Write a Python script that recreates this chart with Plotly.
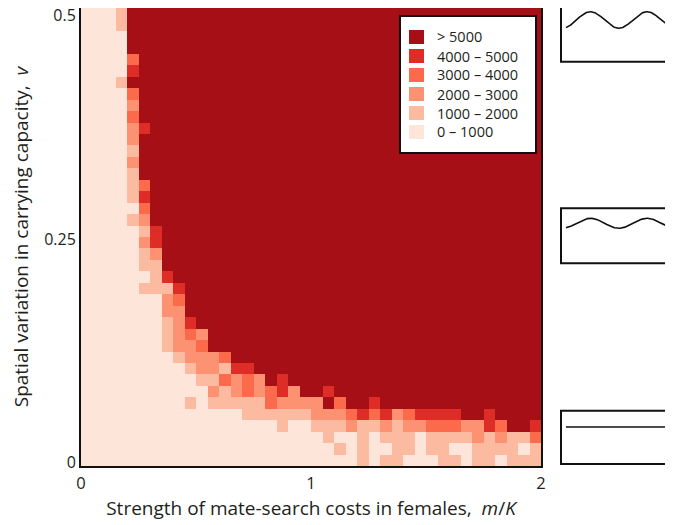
import numpy as np
import plotly.graph_objects as go

# ---------------- data ----------------
# x: strength of mate-search costs m/K (cell centres, 40 columns on [0, 2])
m_over_K = [round(0.025 + 0.05 * i, 4) for i in range(40)]
# y: spatial variation in carrying capacity v (40 rows, 0 ... 0.5)
v_values = [float(v) for v in np.linspace(0.0, 0.5, 40)]

# class index per cell: 0 "0-1000", 1 "1000-2000", 2 "2000-3000",
# 3 "3000-4000", 4 "4000-5000", 5 "> 5000"; rows listed from top (v=0.5) to bottom (v=0)
rows_top_down = [
    "0001555555 5555555555 5555555555 5555555555",
    "0001555555 5555555555 5555555555 5555555555",
    "0000555555 5555555555 5555555555 5555555555",
    "0000555555 5555555555 5555555555 5555555555",
    "0000355555 5555555555 5555555555 5555555555",
    "0000455555 5555555555 5555555555 5555555555",
    "0001555555 5555555555 5555555555 5555555555",
    "0000355555 5555555555 5555555555 5555555555",
    "0000255555 5555555555 5555555555 5555555555",
    "0000355555 5555555555 5555555555 5555555555",
    "0000245555 5555555555 5555555555 5555555555",
    "0000255555 5555555555 5555555555 5555555555",
    "0000155555 5555555555 5555555555 5555555555",
    "0000255555 5555555555 5555555555 5555555555",
    "0000155555 5555555555 5555555555 5555555555",
    "0000135555 5555555555 5555555555 5555555555",
    "0000145555 5555555555 5555555555 5555555555",
    "0000035555 5555555555 5555555555 5555555555",
    "0000125555 5555555555 5555555555 5555555555",
    "0000014555 5555555555 5555555555 5555555555",
    "0000024555 5555555555 5555555555 5555555555",
    "0000012555 5555555555 5555555555 5555555555",
    "0000011555 5555555555 5555555555 5555555555",
    "0000001455 5555555555 5555555555 5555555555",
    "0000011145 5555555555 5555555555 5555555555",
    "0000000235 5555555555 5555555555 5555555555",
    "0000000225 5555555555 5555555555 5555555555",
    "0000000124 5555555555 5555555555 5555555555",
    "0000000123 2555555555 5555555555 5555555555",
    "0000000122 3555555555 5555555555 5555555555",
    "0000000012 2235555555 5555555555 5555555555",
    "0000000001 2214455555 5555555555 5555555555",
    "0000000000 1132325455 5555555555 5555555555",
    "0000000000 0212323425 5455555555 5555555555",
    "0000000001 0111113222 2535545555 5555555555",
    "0000000000 0000111111 2223434234 4445545555",
    "0000000000 0000000100 1112112122 3332243554",
    "0000000000 0000000000 0100101110 1111212113",
    "0000000000 0000000000 0010100110 1100111101",
    "0000000000 0000000000 0000101100 0110110111",
]

class_labels = ["> 5000", "4000 \u2013 5000", "3000 \u2013 4000",
                "2000 \u2013 3000", "1000 \u2013 2000", "0 \u2013 1000"]
class_colors = ["#a50f15", "#de2d26", "#fb6a4a", "#fc9272", "#fcbba1", "#fee5d9"]

x_ticks = [0, 1, 2]
x_ticktext = ["0", "1", "2"]
y_ticks = [0, 0.25, 0.5]
y_ticktext = ["0", "0.25", "0.5"]

# insets: illustration of the carrying-capacity landscape (amplitude in px)
inset_centre = [20.0, 223.3, 427.0]
inset_amp = [8.3, 5.0, 0.0]
inset_box = [(7.0, 61.7), (208.3, 263.3), (410.7, 464.0)]

# ---------------- figure ----------------
FONT = "Open Sans, Lato, sans-serif"
TXT = "#231f20"
OFF = 8                      # page offset of the plot div
W, H = 673 - OFF, 525 - OFF
ML, MT = 81 - OFF, 8 - OFF
MB = H - (466 - OFF)
PW = W - ML
PH = H - MT - MB


def px_x(p):  # page pixel -> paper
    return (p - 81) / PW


def px_y(p):
    return (466 - p) / PH


z = [[int(c) for c in r.replace(" ", "")] for r in reversed(rows_top_down)]
for r in z:
    assert len(r) == 40
assert len(z) == 40

lowfirst = class_colors[::-1]
colorscale = []
for k, c in enumerate(lowfirst):
    colorscale.append([k / 6, c])
    colorscale.append([(k + 1) / 6, c])

fig = go.Figure()
fig.add_trace(go.Heatmap(
    x=m_over_K, y=v_values, z=z, zmin=-0.5, zmax=5.5,
    colorscale=colorscale, showscale=False, hoverinfo="x+y+z",
))

# inset waves
for c, a in zip(inset_centre, inset_amp):
    xs = np.linspace(566, 672, 240)
    ys = c - a * np.cos(2 * np.pi * (xs - 590.5) / 56.5)
    fig.add_trace(go.Scatter(x=xs, y=ys, mode="lines",
                             line=dict(color="#111111", width=1.6),
                             xaxis="x2", yaxis="y2", showlegend=False,
                             hoverinfo="skip"))

shapes = []
for (t, b) in inset_box:
    shapes.append(dict(type="rect", xref="paper", yref="paper",
                       x0=px_x(561), x1=px_x(700), y0=px_y(b), y1=px_y(t),
                       line=dict(color="#111111", width=2), fillcolor="rgba(0,0,0,0)"))

# legend box
shapes.append(dict(type="rect", xref="paper", yref="paper",
                   x0=px_x(400), x1=px_x(536), y0=px_y(153), y1=px_y(16),
                   line=dict(color="#111111", width=2), fillcolor="white"))
annotations = []
for i, (lab, col) in enumerate(zip(class_labels, class_colors)):
    cy = 37 + 19 * i
    shapes.append(dict(type="rect", xref="paper", yref="paper",
                       x0=px_x(409), x1=px_x(424), y0=px_y(cy + 7), y1=px_y(cy - 7),
                       line=dict(width=0), fillcolor=col))
    annotations.append(dict(x=px_x(436), y=px_y(cy), xref="paper", yref="paper",
                            text=lab, showarrow=False, xanchor="left", yanchor="middle",
                            borderpad=0,
                            font=dict(family=FONT, size=14.5, color=TXT)))

fig.update_layout(
    width=W, height=H,
    margin=dict(l=ML, r=0, t=MT, b=MB, pad=0, autoexpand=False),
    paper_bgcolor="white", plot_bgcolor="white",
    font=dict(family=FONT, size=16, color=TXT),
    showlegend=False,
    shapes=shapes, annotations=annotations,
    xaxis=dict(domain=[0, 460 / PW], range=[0, 2], tickvals=x_ticks, ticktext=x_ticktext,
               showline=True, mirror=True, linecolor="#111111", linewidth=2,
               ticks="", showgrid=False, zeroline=False, ticklabelstandoff=1,
               automargin=False,
               ticklabeloverflow="allow", tickfont=dict(size=16.5),
               title=dict(text="Strength of mate-search costs in females,  <i>m</i>/<i>K</i>",
                          font=dict(size=19), standoff=9)),
    yaxis=dict(domain=[0, 1], range=[-0.5 / 78, 0.5 + 0.5 / 78], tickvals=y_ticks,
               ticktext=y_ticktext, showline=True, mirror=True, linecolor="#111111",
               linewidth=2, ticks="", showgrid=False, zeroline=False, ticklabelstandoff=0,
               ticklabelshift=2, automargin=False,
               ticklabeloverflow="allow", tickfont=dict(size=16),
               title=dict(text="Spatial variation in carrying capacity,  <i>v</i>",
                          font=dict(size=19), standoff=15)),
    xaxis2=dict(domain=[px_x(561), 1], range=[561, 673], visible=False, anchor="y2",
                automargin=False),
    yaxis2=dict(domain=[0, 1], range=[466, 8], visible=False, anchor="x2",
                automargin=False),
)

fig.write_html("out.html")
